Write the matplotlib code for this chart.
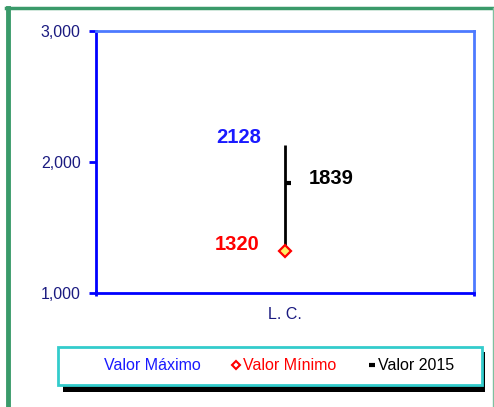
import matplotlib
matplotlib.use("Agg")
import matplotlib.pyplot as plt
from matplotlib.lines import Line2D
from matplotlib.patches import Rectangle
from matplotlib.path import Path

plt.rcParams['font.family'] = ['Liberation Sans', 'DejaVu Sans']

# data
categories = ['L. C.']
valor_maximo = [2128]
valor_minimo = [1320]
valor_2015 = [1839]
y_ticks = [1000, 2000, 3000]
legend_labels = ['Valor Máximo', 'Valor Mínimo', 'Valor 2015']

W, H = 494, 407
fig = plt.figure(figsize=(W / 100, H / 100), dpi=100)
ax = fig.add_axes([96 / W, 1 - 293 / H, (474 - 96) / W, (293 - 31) / H])

x = list(range(len(categories)))

# high-low line
ax.vlines(x, valor_minimo, valor_maximo, color='black', lw=2, zorder=2)
# 2015 tick to the right of the line
right_tick = Path([(0, 0), (1, 0)])
ax.plot(x, valor_2015, ls='none', marker=right_tick, markersize=9,
        mec='black', mew=3, zorder=3)
# minimum diamond
ax.plot(x, valor_minimo, ls='none', marker='D', markersize=6.5,
        mfc='#ffee66', mec='red', mew=1.6, zorder=4)

for i in x:
    ax.annotate(str(valor_maximo[i]), (i, valor_maximo[i]), xytext=(-46, 8),
                textcoords='offset pixels', ha='center', va='center',
                color='#1a1aff', fontsize=14.5, fontweight='bold')
    ax.annotate(str(valor_2015[i]), (i, valor_2015[i]), xytext=(46, 5),
                textcoords='offset pixels', ha='center', va='center',
                color='black', fontsize=14.5, fontweight='bold')
    ax.annotate(str(valor_minimo[i]), (i, valor_minimo[i]), xytext=(-48, 7),
                textcoords='offset pixels', ha='center', va='center',
                color='red', fontsize=14.5, fontweight='bold')

ax.set_xlim(-0.5, len(categories) - 0.5)
ax.set_ylim(y_ticks[0], y_ticks[-1])
ax.set_yticks(y_ticks)
ax.set_yticklabels([f'{v:,}' for v in y_ticks])
ax.set_xticks(x)
ax.set_xticklabels(categories)
ax.set_xticks([-0.5, len(categories) - 0.5], minor=True)
ax.tick_params(axis='x', which='major', length=0, pad=10, labelsize=11.5,
               labelcolor='#1a1a80')
ax.tick_params(axis='x', which='minor', length=5, width=2, color='blue',
               direction='inout')
ax.tick_params(axis='y', length=5, width=2, color='blue', pad=6,
               labelsize=11.5, labelcolor='#1a1a80')

for s in ['left', 'bottom']:
    ax.spines[s].set_color('blue')
    ax.spines[s].set_linewidth(2)
for s in ['top', 'right']:
    ax.spines[s].set_color('#4d7aff')
    ax.spines[s].set_linewidth(2)

# legend box with black shadow
fig.add_artist(Rectangle((63 / W, 1 - 392 / H), (485 - 63) / W, (392 - 352) / H,
                         transform=fig.transFigure, facecolor='black',
                         edgecolor='none', zorder=1))
fig.add_artist(Rectangle((58 / W, 1 - 385 / H), (482 - 58) / W, (385 - 347) / H,
                         transform=fig.transFigure, facecolor='white',
                         edgecolor='#33cccc', lw=2, zorder=2))

handles = [
    Line2D([], [], ls='none', marker=None, color='blue'),
    Line2D([], [], ls='none', marker='D', markersize=4.5, mfc='white',
           mec='red', mew=1.5),
    Line2D([], [], ls='none', marker='_', markersize=5, mec='black', mew=3),
]
leg = fig.legend(handles, legend_labels, ncol=3, frameon=False,
                 loc='center', bbox_to_anchor=(274 / W, 1 - 366 / H),
                 fontsize=11.5, handlelength=0.5, handletextpad=0.15,
                 columnspacing=2.0, labelcolor=['#1a1aff', 'red', 'black'])
leg.set_zorder(3)

# green outer frame
green = '#3a9a6a'
fig.add_artist(Line2D([7.5 / W, 7.5 / W], [0, 1 - 7.5 / H], color=green,
                      lw=3.5, transform=fig.transFigure))
fig.add_artist(Line2D([6 / W, 1], [1 - 7.5 / H, 1 - 7.5 / H], color=green,
                      lw=2.5, transform=fig.transFigure))
fig.add_artist(Line2D([492.5 / W, 492.5 / W], [0, 1 - 7.5 / H], color='#7fbf9f',
                      lw=1, transform=fig.transFigure))

fig.savefig('out.png', dpi=100)
